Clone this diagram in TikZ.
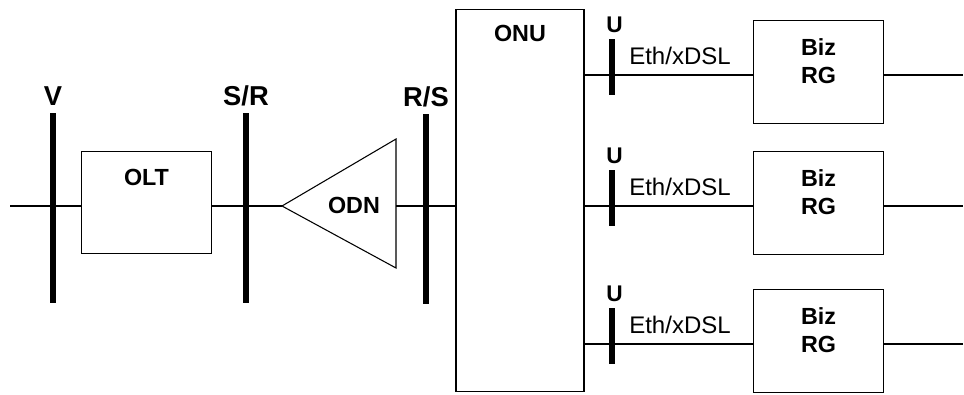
\documentclass[tikz,border=0pt]{standalone}
\usepackage{fontspec}
\setmainfont{Liberation Sans}
\usetikzlibrary{positioning}

\begin{document}
\begin{tikzpicture}[
    x=0.75pt, y=-0.75pt,
    box/.style={draw, line width=0.8pt, inner sep=0pt, minimum width=97pt, minimum height=77pt},
    bar/.style={fill=black, inner sep=0pt, minimum width=5pt, minimum height=#1},
    wire/.style={line width=1.3pt},
    ifc/.style={inner sep=0pt, font=\fontsize{20.5}{22}\selectfont\bfseries},
    uifc/.style={inner sep=0pt, font=\fontsize{17}{19}\selectfont\bfseries},
    lbl/.style={inner sep=0pt, align=center, font=\fontsize{17.5}{21}\selectfont\bfseries},
    link/.style={inner sep=0pt, font=\fontsize{18}{20}\selectfont}
  ]
    \useasboundingbox (0,0) rectangle (964,394);

    % OLT side
    \coordinate (in) at (10,206);
    \node[bar=142.5pt] (v) at (53,208) {};
    \node[ifc, above=5pt of v] (vlbl) {V};
    \node[box] (olt) at (146.5,202.5) {};
    \node[lbl] (oltlbl) at ([yshift=19pt]olt.center) {OLT};
    \node[bar=142.5pt] (sr) at (246,208) {};
    \node[ifc, above=5pt of sr] (srlbl) {S/R};

    % ODN
    \coordinate (odntip) at (282,206);
    \coordinate (odnr) at (396,206);
    \draw[line width=0.8pt] (odntip) -- (396,139) -- (396,268) -- cycle;
    \node[lbl] (odn) at (354,205) {ODN};
    \node[bar=142.5pt] (rs) at (426,209) {};
    \node[ifc, above=5pt of rs] (rslbl) {R/S};

    % ONU
    \node[box, minimum width=96pt, minimum height=287pt] (onu) at (520,200.5) {};
    \node[lbl] (onulbl) at (520,33) {ONU};

    \draw[wire] (in) -- (olt.west |- in);
    \draw[wire] (olt.east |- odntip) -- (odntip);
    \draw[wire] (odnr) -- (onu.west |- odnr);

    % user side
    \foreach \i/\y in {1/75, 2/206, 3/344} {
      \node[bar=42pt] (u\i) at (612,\y-8) {};
      \node[uifc, above=4pt of u\i, xshift=2pt] (ulbl\i) {U};
      \node[link] (eth\i) at (680,\y-19) {Eth/xDSL};
      \node[box] (biz\i) at (818.5,\y-3) {};
      \node[lbl] (bizlbl\i) at ([yshift=8.5pt]biz\i.center) {Biz\\RG};
      \coordinate (out\i) at (963,\y);
      \draw[wire] (onu.east |- out\i) -- (biz\i.west |- out\i);
      \draw[wire] (biz\i.east |- out\i) -- (out\i);
    }
  \end{tikzpicture}
\end{document}
